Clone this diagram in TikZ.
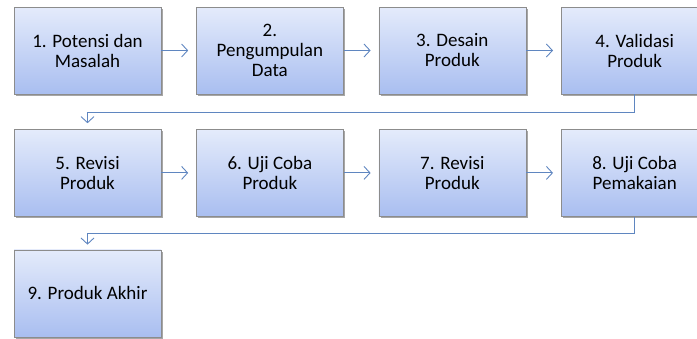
\documentclass[tikz,border=0pt]{standalone}
\usepackage{fontspec}
\setmainfont{Carlito}
\usetikzlibrary{positioning,arrows.meta,shadows}

\definecolor{boxtop}{HTML}{E4EBFB}
\definecolor{boxbot}{HTML}{A9BEF0}
\definecolor{lineblue}{HTML}{5F86C0}

\tikzset{
  stepbox/.style={draw=black!45, top color=boxtop, bottom color=boxbot,
    minimum width=147pt, minimum height=87pt, align=center,
    font=\fontsize{19}{20}\selectfont,
    drop shadow={shadow xshift=2pt, shadow yshift=-2pt, fill=black, opacity=0.35}},
  flow/.style={draw=lineblue, line width=0.9pt, -{Straight Barb[length=6pt,width=13pt]}},
}

\begin{document}
\begin{tikzpicture}[x=1pt, y=-1pt, node distance=35pt]
  \useasboundingbox (0,0) rectangle (697,338);
  % row 1
  \node[stepbox] (potensi) at (87.5,50.5) {1. Potensi dan\\Masalah};
  \node[stepbox, right=of potensi] (data) {2.\\Pengumpulan\\Data};
  \node[stepbox, right=of data] (desain) {3. Desain\\Produk};
  \node[stepbox, right=of desain] (validasi) {4. Validasi\\Produk};
  % row 2
  \node[stepbox, below=of potensi] (revisi1) {5. Revisi\\Produk};
  \node[stepbox, right=of revisi1] (ujicoba) {6. Uji Coba\\Produk};
  \node[stepbox, right=of ujicoba] (revisi2) {7. Revisi\\Produk};
  \node[stepbox, right=of revisi2] (pemakaian) {8. Uji Coba\\Pemakaian};
  % row 3
  \node[stepbox, below=33pt of revisi1] (akhir) {9. Produk Akhir};
  % arrows in the rows
  \draw[flow, shorten >=8pt] (potensi) -- (data);
  \draw[flow, shorten >=8pt] (data) -- (desain);
  \draw[flow, shorten >=8pt] (desain) -- (validasi);
  \draw[flow, shorten >=8pt] (revisi1) -- (ujicoba);
  \draw[flow, shorten >=8pt] (ujicoba) -- (revisi2);
  \draw[flow, shorten >=8pt] (revisi2) -- (pemakaian);
  % returns to the next row
  \coordinate (turn1) at ([yshift=-18pt]validasi.south);
  \coordinate (turn2) at ([yshift=-17pt]pemakaian.south);
  \draw[flow, shorten >=6pt] (validasi.south) -- (turn1) -| (revisi1.north);
  \draw[flow, shorten >=5pt] (pemakaian.south) -- (turn2) -| (akhir.north);
\end{tikzpicture}
\end{document}
